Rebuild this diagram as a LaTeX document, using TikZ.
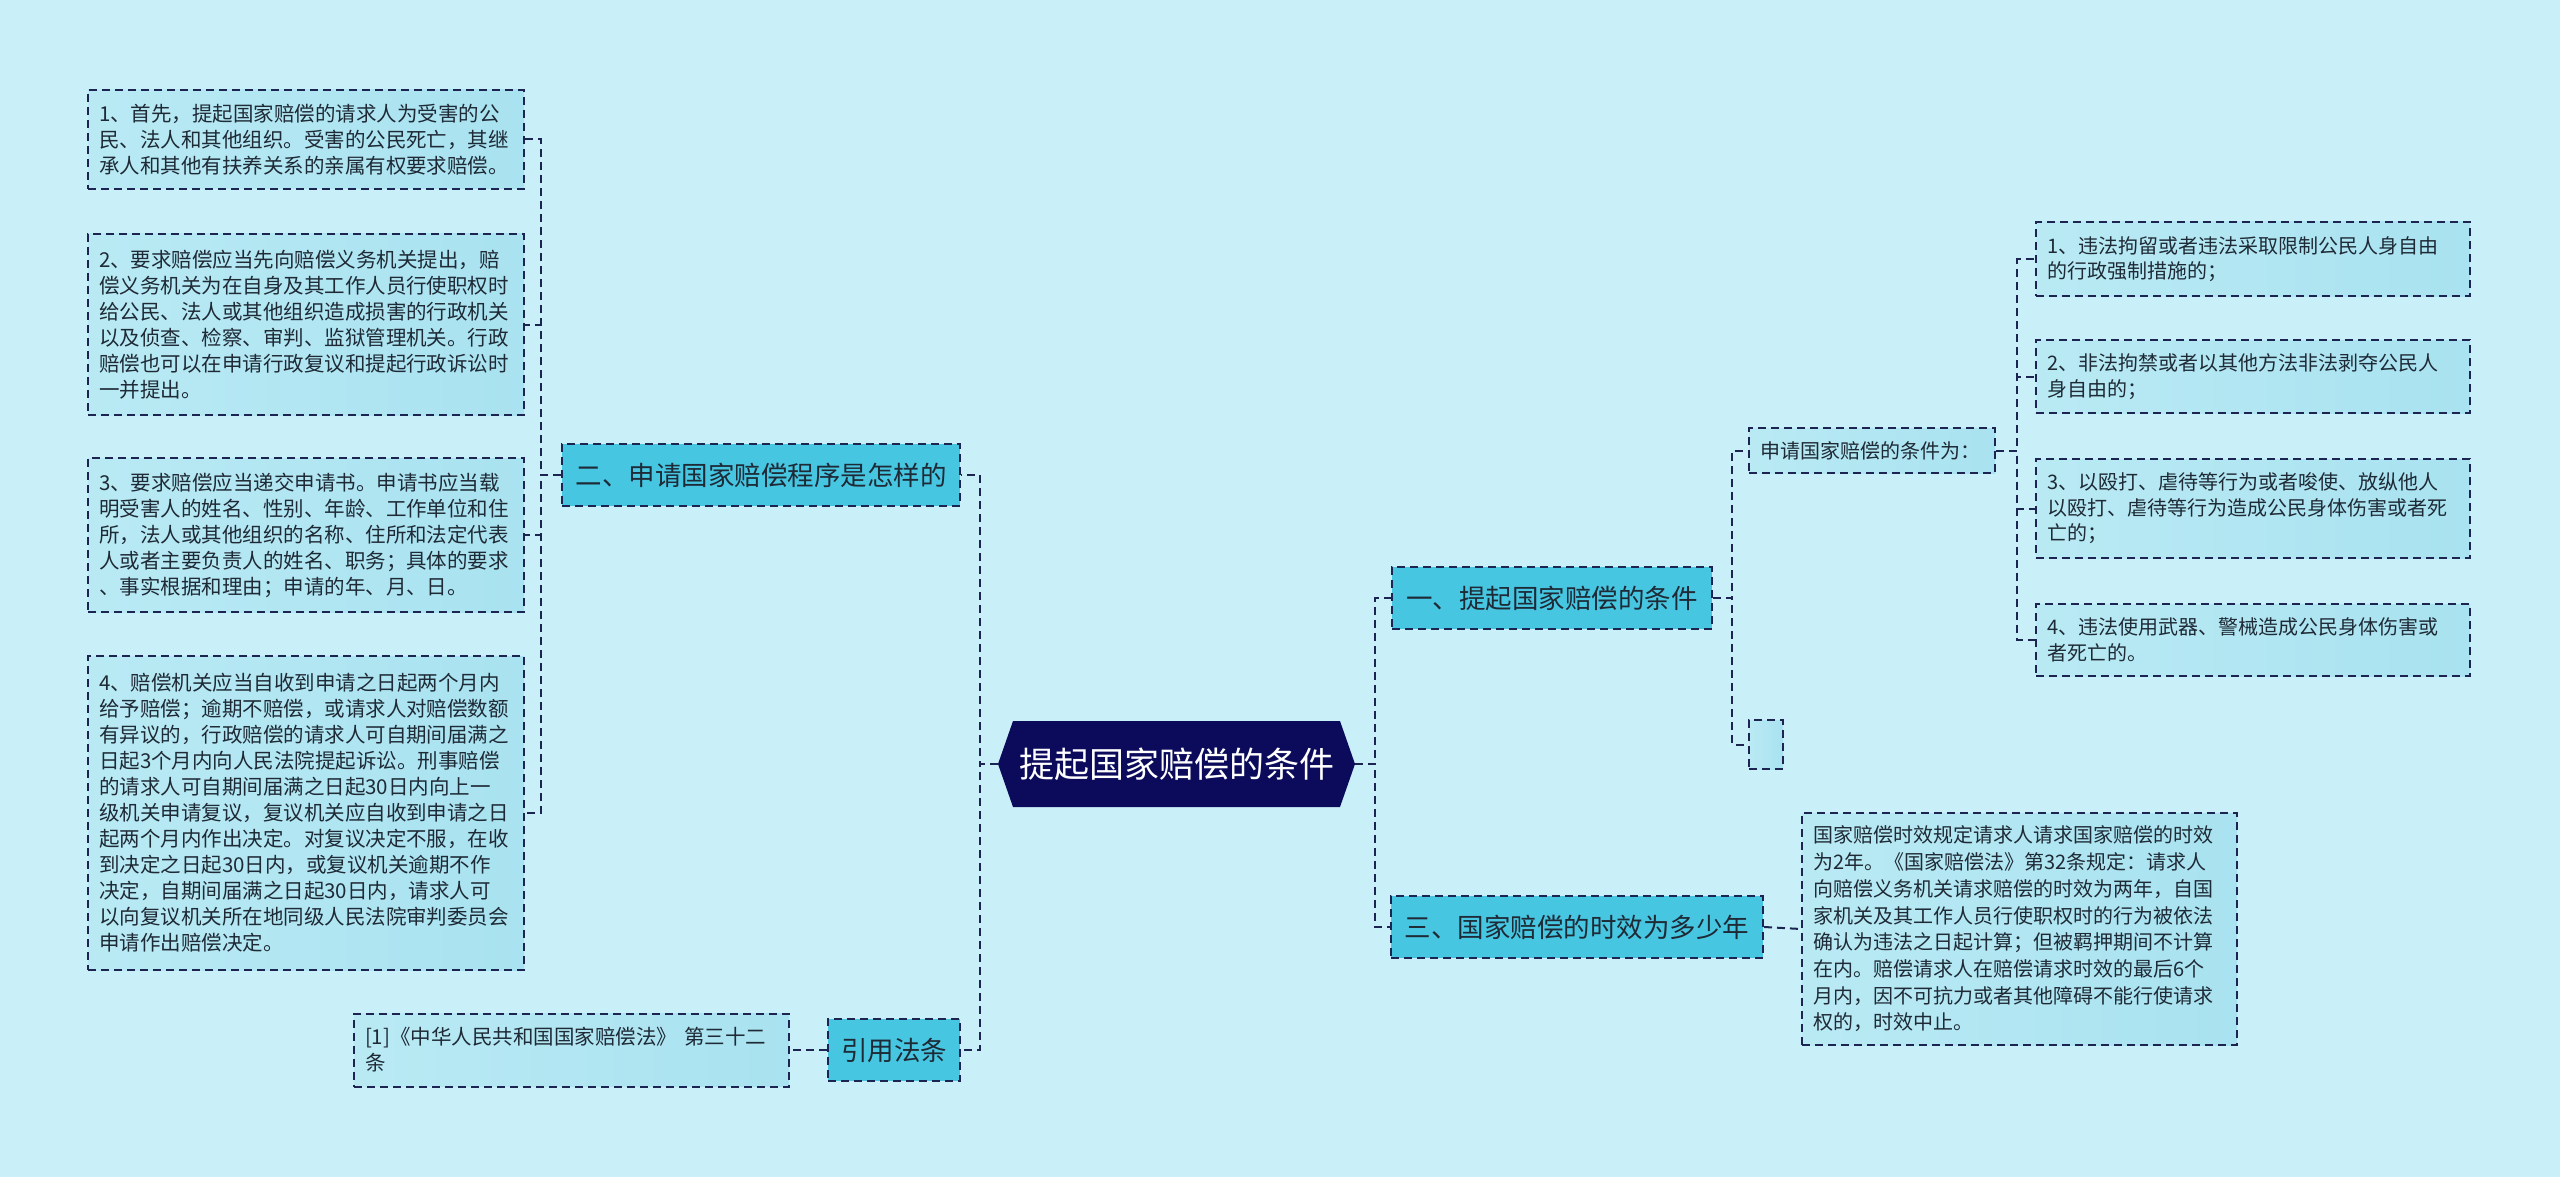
\documentclass[tikz,border=0pt]{standalone}
\usepackage{fontspec}
\setmainfont{Noto Sans CJK SC}
\usetikzlibrary{calc}
\definecolor{bgc}{HTML}{C9F0F8}
\definecolor{leafl}{HTML}{B9EAF4}
\definecolor{leafr}{HTML}{A9E2F0}
\definecolor{midc}{HTML}{47C6E2}
\definecolor{navy}{HTML}{0C0B5B}
\definecolor{edgec}{HTML}{1C2452}
\definecolor{txt}{HTML}{1E2A36}
\pgfdeclarelayer{bg}
\pgfsetlayers{bg,main}
\tikzset{
  dashline/.style={draw=edgec, line width=2pt, dash pattern=on 8pt off 5pt},
  leafbox/.style={dashline, left color=leafl, right color=leafr, text=txt, align=left,
    inner xsep=11pt, inner ysep=0pt, font=\fontsize{20.5}{26}\selectfont},
  rleafbox/.style={leafbox, font=\fontsize{20}{25.5}\selectfont},
  midbox/.style={dashline, fill=midc, text=txt, inner sep=0pt, minimum height=62pt,
    font=\fontsize{26.5}{30}\selectfont},
  conn/.style={dashline}
}
\begin{document}
\begin{tikzpicture}[x=1pt,y=-1pt]
\begin{pgfonlayer}{bg}
\fill[bgc] (0,0) rectangle (2560,1177);
\end{pgfonlayer}
\useasboundingbox (0,0) rectangle (2560,1177);

% central node
\fill[navy] (998,764) -- (1013,721) -- (1340,721) -- (1355,764) -- (1340,807) -- (1013,807) -- cycle;
\node[text=white, inner sep=0pt, minimum width=357pt, minimum height=86pt,
  font=\fontsize{35}{40}\selectfont] (c) at (1176.5,764) {提起国家赔偿的条件};

% main branches
\node[midbox, minimum width=398pt] (n2) at (761,475) {二、申请国家赔偿程序是怎样的};
\node[midbox, minimum width=132pt] (yy) at (894,1050) {引用法条};
\node[midbox, minimum width=320pt] (n1) at (1552,598) {一、提起国家赔偿的条件};
\node[midbox, minimum width=372pt] (n3) at (1577,927) {三、国家赔偿的时效为多少年};

% left leaves
\node[leafbox, text width=414pt, minimum height=99pt] (L1) at (306,139.5)
 {1、首先，提起国家赔偿的请求人为受害的公\\民、法人和其他组织。受害的公民死亡，其继\\承人和其他有扶养关系的亲属有权要求赔偿。};
\node[leafbox, text width=414pt, minimum height=181pt] (L2) at (306,324.5)
 {2、要求赔偿应当先向赔偿义务机关提出，赔\\偿义务机关为在自身及其工作人员行使职权时\\给公民、法人或其他组织造成损害的行政机关\\以及侦查、检察、审判、监狱管理机关。行政\\赔偿也可以在申请行政复议和提起行政诉讼时\\一并提出。};
\node[leafbox, text width=414pt, minimum height=154pt] (L3) at (306,535)
 {3、要求赔偿应当递交申请书。申请书应当载\\明受害人的姓名、性别、年龄、工作单位和住\\所，法人或其他组织的名称、住所和法定代表\\人或者主要负责人的姓名、职务；具体的要求\\、事实根据和理由；申请的年、月、日。};
\node[leafbox, text width=414pt, minimum height=314pt] (L4) at (306,813)
 {4、赔偿机关应当自收到申请之日起两个月内\\给予赔偿；逾期不赔偿，或请求人对赔偿数额\\有异议的，行政赔偿的请求人可自期间届满之\\日起3个月内向人民法院提起诉讼。刑事赔偿\\的请求人可自期间届满之日起30日内向上一\\级机关申请复议，复议机关应自收到申请之日\\起两个月内作出决定。对复议决定不服，在收\\到决定之日起30日内，或复议机关逾期不作\\决定，自期间届满之日起30日内，请求人可\\以向复议机关所在地同级人民法院审判委员会\\申请作出赔偿决定。};
\node[leafbox, text width=413pt, minimum height=73pt] (cite) at (571.5,1050)
 {[1]《中华人民共和国国家赔偿法》 第三十二\\条};

% right leaves
\node[rleafbox, text width=224pt, minimum height=45pt] (sq) at (1872,450.5) {申请国家赔偿的条件为：};
\node[rleafbox, inner xsep=0pt, minimum width=34pt, minimum height=49pt] (emp) at (1766,744.5) {};
\node[rleafbox, text width=412pt, minimum height=74pt] (R1) at (2253,259)
 {1、违法拘留或者违法采取限制公民人身自由\\的行政强制措施的；};
\node[rleafbox, text width=412pt, minimum height=73pt] (R2) at (2253,376.5)
 {2、非法拘禁或者以其他方法非法剥夺公民人\\身自由的；};
\node[rleafbox, text width=412pt, minimum height=99pt] (R3) at (2253,508.5)
 {3、以殴打、虐待等行为或者唆使、放纵他人\\以殴打、虐待等行为造成公民身体伤害或者死\\亡的；};
\node[rleafbox, text width=412pt, minimum height=72pt] (R4) at (2253,640)
 {4、违法使用武器、警械造成公民身体伤害或\\者死亡的。};
\node[rleafbox, text width=413pt, minimum height=232pt, font=\fontsize{20}{26.7}\selectfont] (t3) at (2019.5,929)
 {国家赔偿时效规定请求人请求国家赔偿的时效\\为2年。《国家赔偿法》第32条规定：请求人\\向赔偿义务机关请求赔偿的时效为两年，自国\\家机关及其工作人员行使职权时的行为被依法\\确认为违法之日起计算；但被羁押期间不计算\\在内。赔偿请求人在赔偿请求时效的最后6个\\月内，因不可抗力或者其他障碍不能行使请求\\权的，时效中止。};

% connectors
\begin{pgfonlayer}{bg}
\draw[conn] (c.west) -- ++(-18,0) |- (n2.east);
\draw[conn] (c.west) -- ++(-18,0) |- (yy.east);
\draw[conn] (c.east) -- ++(20,0) |- (n1.west);
\draw[conn] (c.east) -- ++(20,0) |- (n3.west);
\draw[conn] (n2.west) -- ++(-20,0) |- (L1.east);
\draw[conn] (n2.west) -- ++(-20,0) |- (L2.east);
\draw[conn] (n2.west) -- ++(-20,0) |- (L3.east);
\draw[conn] (n2.west) -- ++(-20,0) |- (L4.east);
\draw[conn] (yy.west) -- (cite.east);
\draw[conn] (n1.east) -- ++(19,0) |- (sq.west);
\draw[conn] (n1.east) -- ++(19,0) |- (emp.west);
\draw[conn] (sq.east) -- ++(21,0) |- (R1.west);
\draw[conn] (sq.east) -- ++(21,0) |- (R2.west);
\draw[conn] (sq.east) -- ++(21,0) |- (R3.west);
\draw[conn] (sq.east) -- ++(21,0) |- (R4.west);
\draw[conn] (n3.east) -- (t3.west);
\end{pgfonlayer}
\end{tikzpicture}
\end{document}
